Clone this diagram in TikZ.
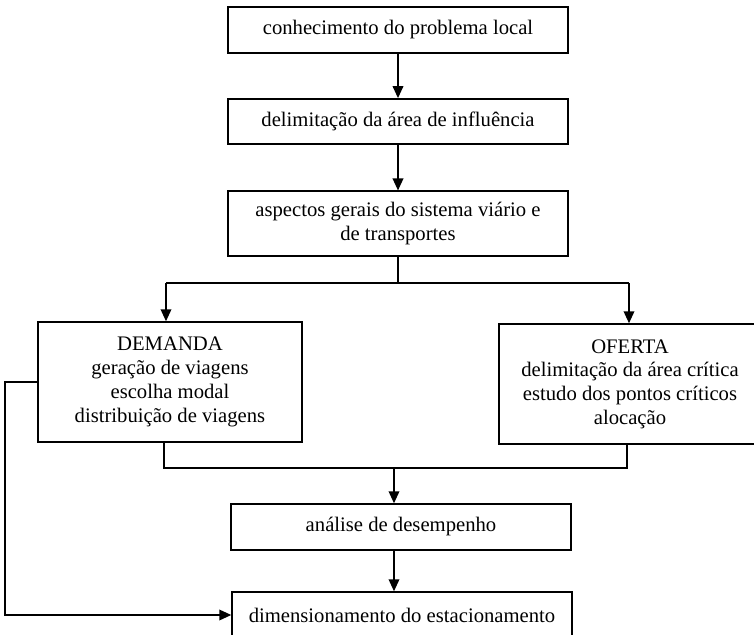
\documentclass[tikz,border=0pt]{standalone}
\usepackage{fontspec}
\setmainfont{Liberation Serif}
\usetikzlibrary{arrows.meta}
\begin{document}
\begin{tikzpicture}[x=0.75pt,y=-0.75pt,line width=1.1pt,
    box/.style={draw,align=center,inner sep=0pt,
      font=\fontsize{15.5}{17.8}\selectfont},
    arr/.style={-{Triangle[length=9pt,width=8pt]}}]
  \useasboundingbox (0,0) rectangle (754,635);
  \clip (0,0) rectangle (754,635);
        \node[box,minimum width=255pt,minimum height=34.5pt] (prob) at (398,30) {conhecimento do problema local};
        \node[box,minimum width=255pt,minimum height=34pt] (area) at (398,121.5) {delimita\c{c}\~ao da \'area de influ\^encia};
        \node[box,minimum width=255pt,minimum height=48.5pt] (viario) at (398,223.5) {aspectos gerais do sistema vi\'ario e\\de transportes};
        %%
          \node[box,minimum width=198pt,minimum height=90pt] (dem) at (170,382) {DEMANDA\\gera\c{c}\~ao de viagens\\escolha modal\\distribui\c{c}\~ao de viagens};
          \node[box,minimum width=196.5pt,minimum height=90pt] (ofe) at (630,384) {OFERTA\\delimita\c{c}\~ao da \'area cr\'itica\\estudo dos pontos cr\'iticos\\aloca\c{c}\~ao};
        %%
        \node[box,minimum width=255pt,minimum height=34.5pt] (anl) at (401,527) {an\'alise de desempenho};
        \node[box,minimum width=255pt,minimum height=34.5pt] (dim) at (402,615) {dimensionamento do estacionamento};
  \coordinate (sL) at (166,283);
  \coordinate (sR) at (629,283);
  \coordinate (mL) at (164,468);
  \coordinate (mR) at (627,468);
  \coordinate (mC) at (394,468);
  \coordinate (fb) at (5,382);
  \draw[arr] (prob.south) -- (area.north);
  \draw[arr] (area.south) -- (viario.north);
  \draw (viario.south) -- (viario.south |- sL);
  \draw (sL) -- (sR);
  \draw[arr] (sL) -- (sL |- dem.north);
  \draw[arr] (sR) -- (sR |- ofe.north);
  \draw (dem.south -| mL) -- (mL) -- (mR) -- (ofe.south -| mR);
  \draw[arr] (mC) -- (mC |- anl.north);
  \draw[arr] (anl.south -| mC) -- (mC |- dim.north);
  \draw[arr] (dem.west) -- (fb) |- (dim.west);
\end{tikzpicture}
\end{document}
